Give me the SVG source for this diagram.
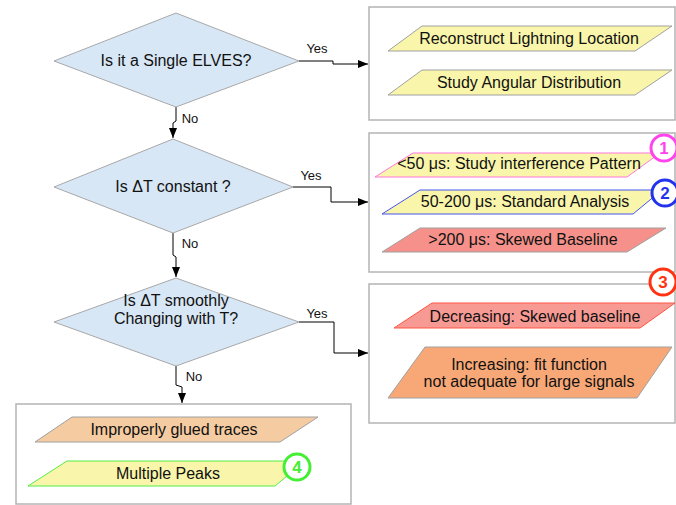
<svg xmlns="http://www.w3.org/2000/svg" width="676" height="505" viewBox="0 0 676 505">
<defs>
<marker id="ah" viewBox="0 0 10 10" refX="10" refY="5" markerWidth="10" markerHeight="10" markerUnits="userSpaceOnUse" orient="auto">
<path d="M0,1 L10,5 L0,9 Z" fill="#000"/>
</marker>
<style>
text{font-family:"Liberation Sans",Arial,sans-serif;font-size:16px;fill:#111;text-anchor:middle}
.lbl{font-size:13px}
.dia{fill:#d8e7f5;stroke:#a8a8a8;stroke-width:1}
.box{fill:#fff;stroke:#b4b4b4;stroke-width:1.5}
.par{stroke:#a0a0a0;stroke-width:1}
.yel{fill:#f9f6ab}
.con{fill:none;stroke:#000;stroke-width:1;marker-end:url(#ah)}
.ring{fill:#fff;stroke-width:3}
.num{font-size:17px;font-weight:bold}
</style>
</defs>
<rect width="676" height="505" fill="#fff"/>
<g id="connectors">
<polyline class="con" points="299,61 333,61 333,64 368,64"/>
<polyline class="con" points="176,107 176,121 173,123 173,138"/>
<polyline class="con" points="293,187 331,187 331,202 368,202"/>
<polyline class="con" points="173,233 173,255 176,257 176,277"/>
<polyline class="con" points="299,322 334,322 334,353 368,353"/>
<polyline class="con" points="176,366 176,385 182,387 182,403"/>
</g>
<g id="labels">
<text class="lbl" x="317" y="53">Yes</text>
<text class="lbl" x="190" y="123">No</text>
<text class="lbl" x="311" y="180">Yes</text>
<text class="lbl" x="190" y="248">No</text>
<text class="lbl" x="317" y="318">Yes</text>
<text class="lbl" x="194" y="381">No</text>
</g>
<g id="d1">
<polygon class="dia" points="54,61 176,13 299,61 176,107"/>
<text x="176" y="66">Is it a Single ELVES?</text>
</g>
<g id="d2">
<polygon class="dia" points="54,187 173,139 293,187 173,233"/>
<text x="173" y="192">Is ΔT constant ?</text>
</g>
<g id="d3">
<polygon class="dia" points="54,322 176,278 299,322 176,366"/>
<text x="176" y="306">Is ΔT smoothly</text>
<text x="176" y="324">Changing with T?</text>
</g>
<g id="box1">
<rect class="box" x="369" y="7" width="306" height="113"/>
</g>
<g id="p1">
<polygon class="par yel" points="388,51 422,26 672,26 635,51"/>
<text x="529" y="44">Reconstruct Lightning Location</text>
</g>
<g id="p2">
<polygon class="par yel" points="388,95 422,70 672,70 635,95"/>
<text x="529" y="88">Study Angular Distribution</text>
</g>
<g id="box2">
<rect class="box" x="369" y="133" width="306" height="139"/>
</g>
<g id="p3">
<polygon class="yel" stroke="#ff77dd" stroke-width="1" points="375,177 413,153 660,153 627,177"/>
<text x="519" y="169">&lt;50 μs: Study interference Pattern</text>
</g>
<g id="p4">
<polygon class="yel" stroke="#4455ee" stroke-width="1" points="382,214 420,190 662,190 633,214"/>
<text x="525" y="207">50-200 μs: Standard Analysis</text>
</g>
<g id="p5">
<polygon class="par" fill="#f5918a" points="382,252 420,228 666,228 627,252"/>
<text x="523" y="245">&gt;200 μs: Skewed Baseline</text>
</g>
<g id="box3">
<rect class="box" x="369" y="284" width="306" height="139"/>
</g>
<g id="p6">
<polygon fill="#f89a94" stroke="#ff5544" stroke-width="1" points="394,328 432,303 675,303 640,328"/>
<text x="535" y="322">Decreasing: Skewed baseline</text>
</g>
<g id="p7">
<polygon class="par" fill="#f8a877" points="388,398 425,347 672,347 637,398"/>
<text x="529" y="370">Increasing: fit function</text>
<text x="529" y="387">not adequate for large signals</text>
</g>
<g id="box4">
<rect class="box" x="16" y="404" width="335" height="100"/>
</g>
<g id="p8">
<polygon class="par" fill="#f5cba1" points="35,442 72,417 318,417 280,442"/>
<text x="174" y="435">Improperly glued traces</text>
</g>
<g id="p9">
<polygon class="yel" stroke="#55ee44" stroke-width="1" points="28,486 67,461 305,461 275,486"/>
<text x="168" y="479">Multiple Peaks</text>
</g>
<g id="c1">
<circle class="ring" cx="664" cy="148" r="13" stroke="#ff44ee"/>
<text class="num" x="664" y="154" style="fill:#ff44ee">1</text>
</g>
<g id="c2">
<circle class="ring" cx="665" cy="193" r="13" stroke="#2233ee"/>
<text class="num" x="665" y="199" style="fill:#2233ee">2</text>
</g>
<g id="c3">
<circle class="ring" cx="663" cy="282" r="13" stroke="#ff3311"/>
<text class="num" x="663" y="288" style="fill:#ff3311">3</text>
</g>
<g id="c4">
<circle class="ring" cx="297" cy="467" r="13" stroke="#44ee33"/>
<text class="num" x="297" y="473" style="fill:#44ee33">4</text>
</g>
</svg>
